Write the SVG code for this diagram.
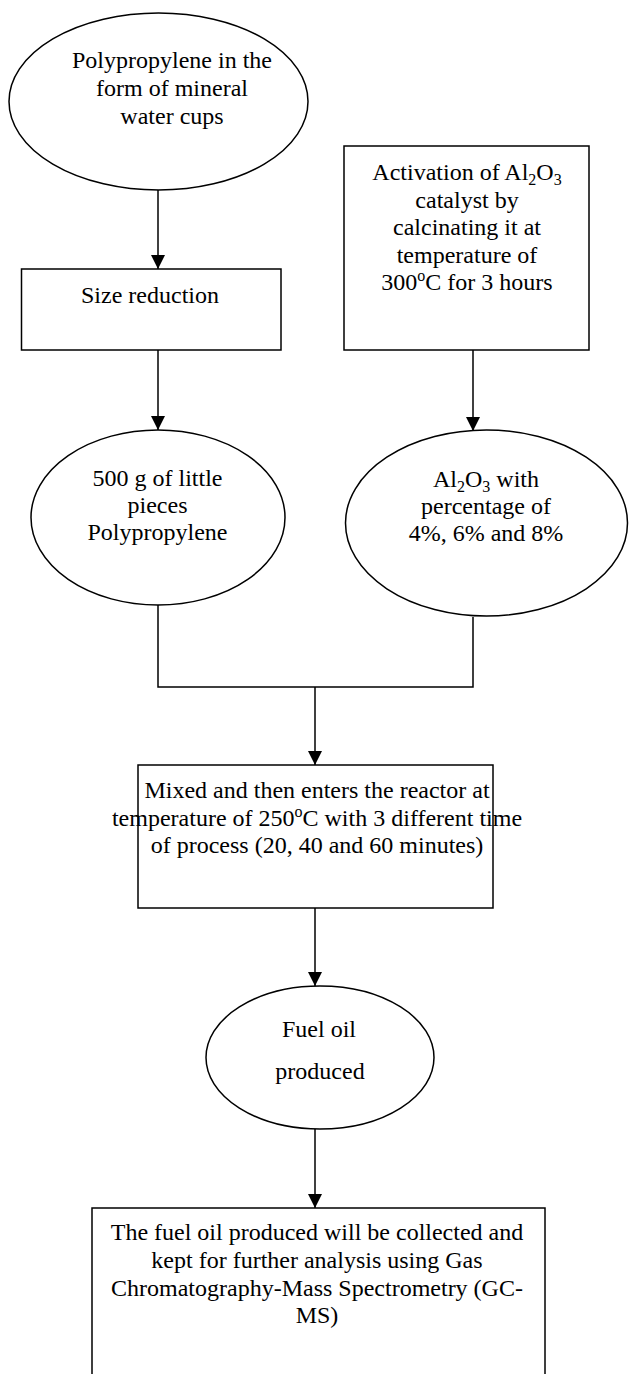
<svg xmlns="http://www.w3.org/2000/svg" width="629" height="1374" viewBox="0 0 629 1374">
<style>
.s{fill:#fff;stroke:#000;stroke-width:1.5}
.c{fill:none;stroke:#000;stroke-width:1.5}
text{font-family:"Liberation Serif","Times New Roman",serif;font-size:24px;fill:#000;text-anchor:middle}
.sb{font-size:16px}
</style>
<defs>
<marker id="ah" markerUnits="userSpaceOnUse" markerWidth="14" markerHeight="14" refX="14" refY="7" orient="auto">
<path d="M0,0 L14,7 L0,14 z" fill="#000"/>
</marker>
</defs>
<rect width="629" height="1374" fill="#fff"/>
<g id="connectors">
<line class="c" x1="158" y1="190" x2="158" y2="269" marker-end="url(#ah)"/>
<line class="c" x1="158" y1="350" x2="158" y2="430" marker-end="url(#ah)"/>
<line class="c" x1="473" y1="350" x2="473" y2="431" marker-end="url(#ah)"/>
<polyline class="c" points="158,605 158,687 473,687 473,617"/>
<line class="c" x1="315" y1="687" x2="315" y2="765" marker-end="url(#ah)"/>
<line class="c" x1="315" y1="908" x2="315" y2="986" marker-end="url(#ah)"/>
<line class="c" x1="315" y1="1129" x2="315" y2="1208" marker-end="url(#ah)"/>
</g>
<g id="n1">
<ellipse class="s" cx="158.5" cy="101.5" rx="149.5" ry="88.5"/>
<text x="172" y="68">Polypropylene in the</text>
<text x="172" y="96">form of mineral</text>
<text x="172" y="124">water cups</text>
</g>
<g id="n2">
<rect class="s" x="21.5" y="269" width="259.5" height="81"/>
<text x="150" y="303">Size reduction</text>
</g>
<g id="n3">
<rect class="s" x="344" y="146" width="245" height="204"/>
<text x="467" y="180">Activation of Al<tspan class="sb" dy="5">2</tspan><tspan dy="-5">O</tspan><tspan class="sb" dy="5">3</tspan></text>
<text x="467" y="207.6">catalyst by</text>
<text x="467" y="235.2">calcinating it at</text>
<text x="467" y="262.8">temperature of</text>
<text x="467" y="290.4">300<tspan class="sb" dy="-9">o</tspan><tspan dy="9">C for 3 hours</tspan></text>
</g>
<g id="n4">
<ellipse class="s" cx="158" cy="517.5" rx="127" ry="87.5"/>
<text x="157.5" y="486">500 g of little</text>
<text x="157.5" y="513">pieces</text>
<text x="157.5" y="540">Polypropylene</text>
</g>
<g id="n5">
<ellipse class="s" cx="486.5" cy="523" rx="141" ry="93"/>
<text x="486" y="487">Al<tspan class="sb" dy="5">2</tspan><tspan dy="-5">O</tspan><tspan class="sb" dy="5">3</tspan><tspan dy="-5"> with</tspan></text>
<text x="486" y="514">percentage of</text>
<text x="486" y="541">4%, 6% and 8%</text>
</g>
<g id="n6">
<rect class="s" x="138" y="765" width="355" height="143"/>
<text x="317" y="798">Mixed and then enters the reactor at</text>
<text x="317" y="825.5">temperature of 250<tspan class="sb" dy="-9">o</tspan><tspan dy="9">C with 3 different time</tspan></text>
<text x="317" y="853">of process (20, 40 and 60 minutes)</text>
</g>
<g id="n7">
<ellipse class="s" cx="320" cy="1057.5" rx="114" ry="71.5"/>
<text x="319" y="1037">Fuel oil</text>
<text x="320" y="1079">produced</text>
</g>
<g id="n8">
<rect class="s" x="92" y="1208" width="453" height="200"/>
<text x="317" y="1240">The fuel oil produced will be collected and</text>
<text x="317" y="1268">kept for further analysis using Gas</text>
<text x="317" y="1296">Chromatography-Mass Spectrometry (GC-</text>
<text x="317" y="1323">MS)</text>
</g>
</svg>
